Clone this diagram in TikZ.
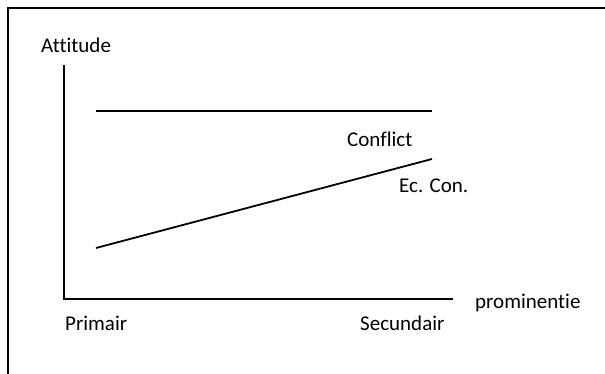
\documentclass[tikz,border=0pt]{standalone}
\usepackage{fontspec}
\setmainfont{Carlito}[Ligatures={NoCommon}]
\begin{document}
\begin{tikzpicture}[x=1pt,y=-1pt,
  lbl/.style={anchor=base west,inner sep=0pt,font=\fontsize{21}{25}\selectfont},
  axis/.style={line width=1.8pt},
  curve/.style={line width=1.8pt}]
\useasboundingbox (0,0) rectangle (605,374);
\draw[line width=2.5pt] (8,374) -- (8,8) -- (605,8);
\coordinate (o) at (64,299);
\coordinate (ytop) at (64,65);
\coordinate (xend) at (453,299);
\draw[axis] (ytop) -- (o) -- (xend);
\coordinate (c1) at (96,111);
\coordinate (c2) at (432,111);
\draw[curve] (c1) -- (c2);
\coordinate (e1) at (96,248);
\coordinate (e2) at (432,159);
\draw[curve] (e1) -- (e2);
\node[lbl] (att) at (41,53) {Attitude};
\node[lbl] (conf) at (347,147) {Conflict};
\node[lbl] (ec) at (399,193) {Ec. Con.};
\node[lbl] (prom) at (475,308) {prominentie};
\node[lbl] (prim) at (65,330) {Primair};
\node[lbl] (sec) at (360,330) {Secundair};
\end{tikzpicture}
\end{document}
